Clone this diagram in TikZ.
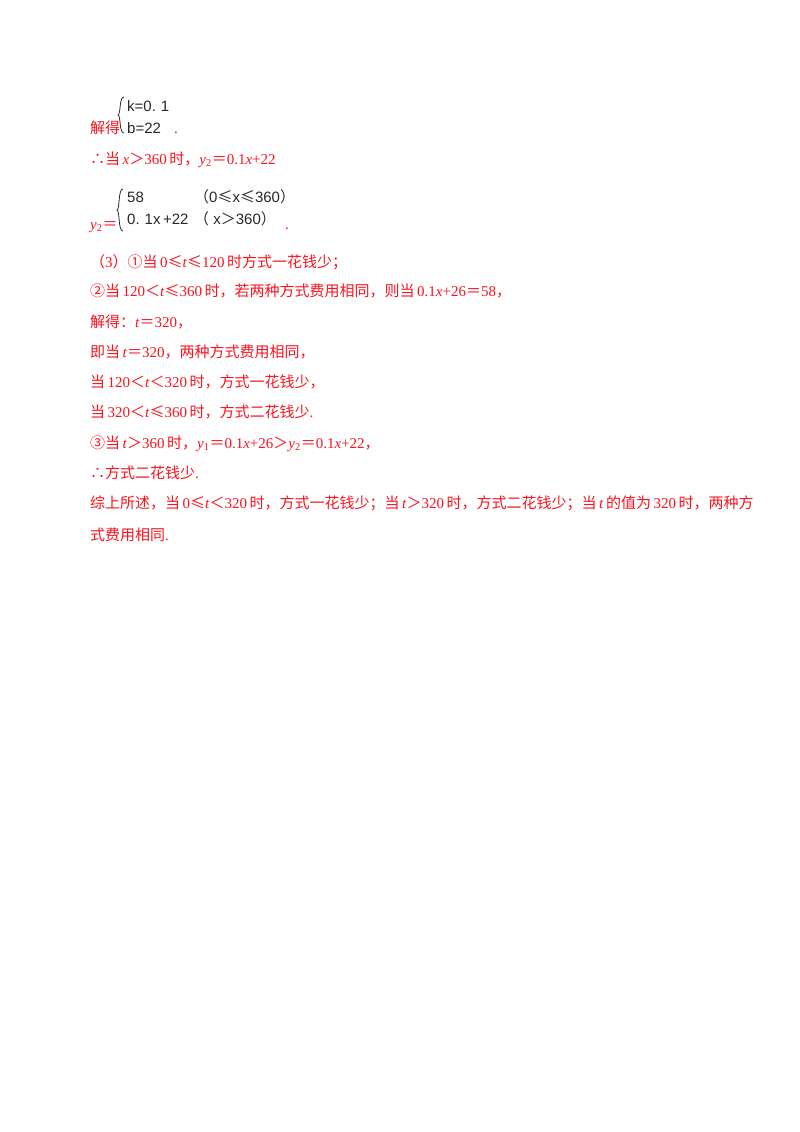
\documentclass[tikz,border=0pt]{standalone}
\usepackage{fontspec}
\setmainfont{Liberation Serif}
\newfontfamily\cj{Noto Sans CJK SC}
\newfontfamily\eqf{Liberation Sans}
\definecolor{rd}{RGB}{250,20,30}
\definecolor{eq}{RGB}{40,40,40}
\begin{document}
\begin{tikzpicture}[x=1pt,y=-1pt,
  ln/.style={anchor=base west,inner sep=0,text=rd,font=\fontsize{15}{17}\selectfont},
  eqt/.style={anchor=base west,inner sep=0,text=eq,font=\eqf\fontsize{15}{17}\selectfont}]
\useasboundingbox[fill=white] (0,0) rectangle (800,1132);
\node[ln] (l1) at (90,133) {{\cj 解得}};
\draw[eq,line width=0.8] (124,97) .. controls (119,97) and (121,114) .. (118,115) .. controls (121,116) and (119,133) .. (124,133);
\node[eqt] (e1) at (127,111) {k=0.\,\,1};
\node[eqt] (e2) at (127,133) {b=22};
\node[ln] (d1) at (174,133) {.};
\node[ln] (l2) at (90,164) {{\cj ∴当}\,\textit{x}{\cj ＞}360\,{\cj 时，}\textit{y}\textsubscript{2}{\cj ＝}0.1\textit{x}+22};
\node[ln] (l3) at (90,229) {\textit{y}\textsubscript{2}{\cj ＝}};
\draw[eq,line width=0.8] (123,189) .. controls (118,189) and (120,209) .. (117,210) .. controls (120,211) and (118,231) .. (123,231);
\node[eqt] (e3) at (127,202) {58};
\node[eqt] (e4) at (194,202) {{\cj （}0{\cj ≤}x{\cj ≤}360{\cj ）}};
\node[eqt] (e5) at (127,224) {0.\,\,1x\,+22};
\node[eqt] (e6) at (194,224) {{\cj （} x{\cj ＞}360{\cj ）}};
\node[ln] (d2) at (285,229) {.};
\node[ln] (l4) at (90,267) {{\cj （}3{\cj ）①当}\,0{\cj ≤}\textit{t}{\cj ≤}120\,{\cj 时方式一花钱少；}};
\node[ln] (l5) at (90,296) {{\cj ②当}\,120{\cj ＜}\textit{t}{\cj ≤}360\,{\cj 时，若两种方式费用相同，则当}\,0.1\textit{x}+26{\cj ＝}58{\cj ，}};
\node[ln] (l6) at (90,327) {{\cj 解得：}\textit{t}{\cj ＝}320{\cj ，}};
\node[ln] (l7) at (90,357) {{\cj 即当}\,\textit{t}{\cj ＝}320{\cj ，两种方式费用相同，}};
\node[ln] (l8) at (90,387) {{\cj 当}\,120{\cj ＜}\textit{t}{\cj ＜}320\,{\cj 时，方式一花钱少，}};
\node[ln] (l9) at (90,417) {{\cj 当}\,320{\cj ＜}\textit{t}{\cj ≤}360\,{\cj 时，方式二花钱少}.};
\node[ln] (l10) at (90,448) {{\cj ③当}\,\textit{t}{\cj ＞}360\,{\cj 时，}\textit{y}\textsubscript{1}{\cj ＝}0.1\textit{x}+26{\cj ＞}\textit{y}\textsubscript{2}{\cj ＝}0.1\textit{x}+22{\cj ，}};
\node[ln] (l11) at (90,478) {{\cj ∴方式二花钱少}.};
\node[ln] (l12) at (90,508) {{\cj 综上所述，当}\,0{\cj ≤}\textit{t}{\cj ＜}320\,{\cj 时，方式一花钱少；当}\,\textit{t}{\cj ＞}320\,{\cj 时，方式二花钱少；当}\,\textit{t}\,{\cj 的值为}\,320\,{\cj 时，两种方}};
\node[ln] (l13) at (90,540) {{\cj 式费用相同}.};
\end{tikzpicture}
\end{document}
